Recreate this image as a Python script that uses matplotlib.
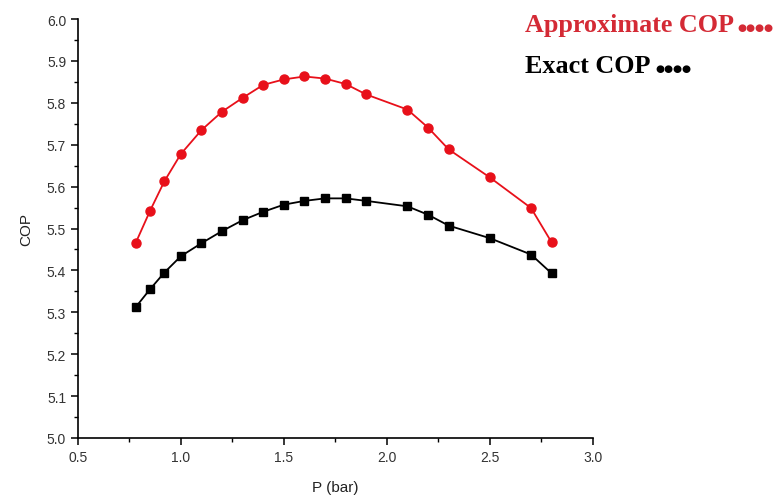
import matplotlib
matplotlib.use("Agg")
import matplotlib.pyplot as plt
from matplotlib.ticker import MultipleLocator

P = [0.78, 0.85, 0.92, 1.0, 1.1, 1.2, 1.3, 1.4, 1.5, 1.6, 1.7, 1.8, 1.9, 2.1, 2.2, 2.3, 2.5, 2.7, 2.8]
approx_cop = [5.465, 5.542, 5.613, 5.678, 5.735, 5.779, 5.812, 5.843, 5.856, 5.863, 5.858,
              5.845, 5.820, 5.784, 5.741, 5.689, 5.622, 5.549, 5.467]
exact_cop = [5.312, 5.355, 5.395, 5.434, 5.465, 5.494, 5.520, 5.540, 5.557, 5.566, 5.572,
             5.572, 5.566, 5.553, 5.533, 5.507, 5.477, 5.438, 5.393]

fig = plt.figure(figsize=(7.79, 5.02), dpi=100)
ax = fig.add_axes([0.100, 0.1255, 0.661, 0.8345])

ax.plot(P, approx_cop, color="#e8101a", marker="o", markersize=6.5, linewidth=1.3)
ax.plot(P, exact_cop, color="black", marker="s", markersize=5.5, linewidth=1.3)

ax.set_xlim(0.5, 3.0)
ax.set_ylim(5.0, 6.0)
ax.xaxis.set_major_locator(MultipleLocator(0.5))
ax.xaxis.set_minor_locator(MultipleLocator(0.25))
ax.yaxis.set_major_locator(MultipleLocator(0.1))
ax.yaxis.set_minor_locator(MultipleLocator(0.05))
ax.spines["top"].set_visible(False)
ax.spines["right"].set_visible(False)
for s in ("left", "bottom"):
    ax.spines[s].set_linewidth(1.2)
ax.tick_params(which="major", direction="out", length=5, width=1.1, labelsize=10,
               labelcolor="#333333")
ax.tick_params(which="minor", direction="out", length=3, width=1.0)
for lab in ax.get_xticklabels() + ax.get_yticklabels():
    lab.set_fontfamily("Liberation Sans")

ax.set_xlabel("P (bar)", fontsize=11, family="Liberation Sans", color="#222222", labelpad=12)
ax.set_ylabel("COP", fontsize=11, family="Liberation Sans", color="#222222", labelpad=10)

fig.text(0.674, 0.950, "Approximate COP", color="#d42a35", fontsize=18.8,
         fontweight="bold", family="Liberation Serif", va="center")
fig.text(0.947, 0.944, "●●●●", color="#d42a35", fontsize=7.5,
         family="DejaVu Sans", va="center")
fig.text(0.674, 0.868, "Exact COP", color="black", fontsize=18.8,
         fontweight="bold", family="Liberation Serif", va="center")
fig.text(0.841, 0.862, "●●●●", color="black", fontsize=7.5,
         family="DejaVu Sans", va="center")

fig.savefig("out.png", dpi=100)
